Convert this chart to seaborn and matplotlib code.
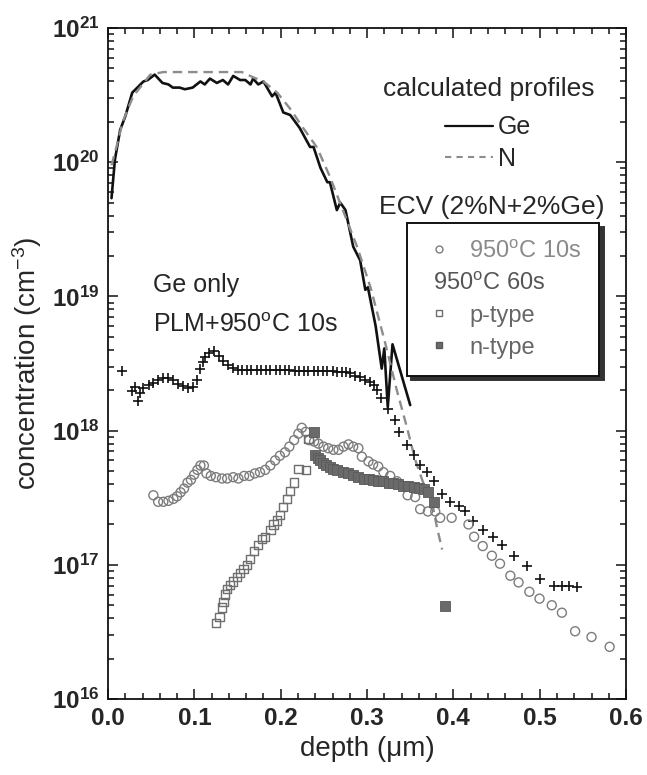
import numpy as np
import pandas as pd
import matplotlib
matplotlib.use("Agg")
import matplotlib.pyplot as plt
import matplotlib.ticker as ticker
from matplotlib.lines import Line2D
import seaborn as sns

# calculated profiles
ge_depth = [0.004, 0.008, 0.014, 0.020, 0.028, 0.041, 0.046, 0.054, 0.063, 0.070, 0.075, 0.083, 0.089,
            0.098, 0.107, 0.112, 0.118, 0.126, 0.133, 0.139, 0.145, 0.153, 0.159, 0.165, 0.168, 0.174,
            0.180, 0.190, 0.194, 0.203, 0.211, 0.222, 0.234, 0.238, 0.246, 0.254, 0.257, 0.265, 0.269,
            0.275, 0.284, 0.292, 0.298, 0.301, 0.310, 0.317, 0.320, 0.324, 0.3295, 0.350]
ge_conc = [5.4e19, 1.05e20, 1.74e20, 2.2e20, 3.3e20, 4.0e20, 4.1e20, 4.5e20, 3.9e20, 3.8e20, 3.6e20, 3.6e20, 3.5e20,
           3.6e20, 4.0e20, 3.8e20, 4.2e20, 3.9e20, 4.1e20, 3.8e20, 4.4e20, 4.1e20, 4.1e20, 3.8e20, 4.2e20, 3.8e20,
           4.0e20, 3.1e20, 3.3e20, 2.35e20, 2.25e20, 1.8e20, 1.3e20, 1.3e20, 9.1e19, 7.1e19, 7.1e19, 4.4e19, 5.0e19,
           4.4e19, 2.35e19, 1.86e19, 1.12e19, 1.17e19, 6.0e18, 2.9e18, 4.1e18, 1.5e18, 4.4e18, 1.55e18]

n_depth = [0.004, 0.010, 0.017, 0.029, 0.037, 0.049, 0.064, 0.095, 0.133, 0.155, 0.168, 0.180, 0.196,
           0.211, 0.226, 0.242, 0.257, 0.272, 0.289, 0.304, 0.321, 0.3345, 0.346, 0.356, 0.365, 0.375,
           0.381, 0.387]
n_conc = [9.5e19, 1.32e20, 2.0e20, 3.1e20, 3.6e20, 4.5e20, 4.7e20, 4.7e20, 4.7e20, 4.7e20, 4.3e20, 4.0e20, 3.3e20,
          2.5e20, 1.8e20, 1.29e20, 7.8e19, 4.4e19, 2.3e19, 1.17e19, 4.5e18, 2.0e18, 1.07e18, 6.0e17, 4.1e17, 3.0e17,
          1.9e17, 1.3e17]

# Ge only, PLM + 950C 10s
plm_depth = [0.0166, 0.0274, 0.031, 0.035, 0.037, 0.041, 0.047, 0.0525, 0.058, 0.064, 0.070, 0.0757, 0.0815,
             0.087, 0.093, 0.098, 0.103, 0.106, 0.110, 0.112, 0.117, 0.123, 0.128, 0.1336, 0.139, 0.145,
             0.150, 0.155, 0.161, 0.166, 0.172, 0.177, 0.183, 0.188, 0.194, 0.199, 0.205, 0.210, 0.216,
             0.221, 0.227, 0.232, 0.238, 0.243, 0.249, 0.254, 0.260, 0.265, 0.271, 0.276,
             0.280, 0.286, 0.292, 0.298, 0.3036, 0.308, 0.312, 0.316, 0.3237, 0.332, 0.3375, 0.346, 0.354,
             0.3615, 0.369, 0.3777, 0.3866, 0.396, 0.406, 0.4137, 0.423, 0.434, 0.4457, 0.456, 0.4697,
             0.485, 0.4998, 0.516, 0.5257, 0.5345, 0.543]
plm_conc = [2.8e18, 1.98e18, 2.1e18, 1.66e18, 1.9e18, 2.07e18, 2.19e18, 2.28e18, 2.38e18, 2.45e18, 2.45e18, 2.38e18, 2.24e18,
            2.14e18, 2.07e18, 2.1e18, 2.38e18, 2.86e18, 3.24e18, 3.55e18, 3.8e18, 3.9e18, 3.6e18, 3.3e18, 3.1e18, 2.95e18,
            2.85e18, 2.85e18, 2.84e18, 2.84e18, 2.83e18, 2.83e18, 2.83e18, 2.82e18, 2.82e18, 2.82e18, 2.81e18, 2.81e18, 2.80e18,
            2.80e18, 2.80e18, 2.79e18, 2.79e18, 2.78e18, 2.78e18, 2.77e18, 2.76e18, 2.75e18, 2.74e18, 2.72e18,
            2.69e18, 2.57e18, 2.51e18, 2.4e18, 2.32e18, 2.19e18, 2.0e18, 1.74e18, 1.45e18, 1.2e18, 9.8e17, 7.8e17, 6.6e17,
            5.5e17, 4.9e17, 4.2e17, 3.4e17, 2.95e17, 2.75e17, 2.5e17, 2.14e17, 1.82e17, 1.62e17, 1.41e17, 1.17e17,
            9.8e16, 7.8e16, 6.9e16, 6.9e16, 6.9e16, 6.8e16]

# ECV 950C 10s
ecv10_depth = [0.0525, 0.058, 0.064, 0.070, 0.0757, 0.080, 0.084, 0.088, 0.092, 0.096, 0.0997, 0.1035, 0.107,
               0.111, 0.114, 0.119, 0.125, 0.132, 0.138, 0.145, 0.151, 0.1576, 0.1637, 0.170, 0.176, 0.182,
               0.188, 0.1935, 0.199, 0.205, 0.210, 0.2155, 0.2205, 0.2244, 0.229, 0.233, 0.2387, 0.2437,
               0.2495, 0.255, 0.261, 0.267, 0.2727, 0.2785, 0.284, 0.290, 0.294, 0.3016, 0.307, 0.313, 0.319,
               0.3268, 0.3345, 0.347, 0.3557, 0.3615, 0.3705, 0.379, 0.3847, 0.398, 0.4175, 0.424, 0.434,
               0.4446, 0.454, 0.466, 0.4755, 0.488, 0.4998, 0.514, 0.5257, 0.541, 0.560, 0.581]
ecv10_conc = [3.3e17, 2.95e17, 2.95e17, 3.0e17, 3.1e17, 3.24e17, 3.47e17, 3.7e17, 4.1e17, 4.3e17, 4.7e17, 5.1e17, 5.5e17,
              5.5e17, 4.8e17, 4.6e17, 4.5e17, 4.4e17, 4.4e17, 4.5e17, 4.4e17, 4.6e17, 4.6e17, 4.8e17, 4.9e17, 5.1e17,
              5.5e17, 6.0e17, 6.5e17, 6.9e17, 7.6e17, 8.5e17, 9.5e17, 1.05e18, 9.8e17, 8.5e17, 8.3e17, 8.0e17,
              7.6e17, 7.4e17, 7.2e17, 7.2e17, 7.6e17, 7.9e17, 7.6e17, 7.4e17, 6.4e17, 5.9e17, 5.6e17, 5.4e17, 4.9e17,
              4.6e17, 4.2e17, 3.3e17, 3.2e17, 2.6e17, 2.5e17, 2.5e17, 2.24e17, 2.24e17, 2.0e17, 1.62e17, 1.38e17,
              1.17e17, 1.02e17, 8.3e16, 7.4e16, 6.3e16, 5.6e16, 5.0e16, 4.4e16, 3.2e16, 2.9e16, 2.45e16]

# ECV 950C 60s
p_depth = [0.125, 0.129, 0.132, 0.1336, 0.1356, 0.138, 0.141, 0.145, 0.149, 0.153, 0.157, 0.1607, 0.1645,
           0.169, 0.174, 0.178, 0.182, 0.188, 0.1915, 0.1955, 0.199, 0.2024, 0.207, 0.211, 0.2155, 0.2205,
           0.229, 0.232]
p_conc = [3.7e16, 4.1e16, 4.8e16, 5.3e16, 6.0e16, 6.6e16, 7.1e16, 7.5e16, 8.1e16, 8.7e16, 9.3e16, 1.0e17, 1.1e17,
          1.27e17, 1.41e17, 1.55e17, 1.62e17, 1.82e17, 2.0e17, 2.14e17, 2.34e17, 2.7e17, 3.1e17, 3.55e17, 4.1e17, 5.2e17,
          5.1e17, 8.7e17]

n_type_depth = [0.238, 0.240, 0.243, 0.2457, 0.249, 0.253, 0.257, 0.261, 0.265, 0.2727, 0.278, 0.284, 0.290,
                0.296, 0.302, 0.307, 0.313, 0.319, 0.325, 0.3306, 0.336, 0.342, 0.348, 0.354, 0.360, 0.3654,
                0.371, 0.377, 0.390]
n_type_conc = [9.8e17, 6.6e17, 6.3e17, 6.0e17, 5.7e17, 5.5e17, 5.35e17, 5.2e17, 5.1e17, 4.9e17, 4.8e17, 4.7e17, 4.55e17,
               4.4e17, 4.35e17, 4.3e17, 4.25e17, 4.2e17, 4.1e17, 4.05e17, 4.0e17, 3.9e17, 3.85e17, 3.8e17, 3.75e17, 3.7e17,
               3.5e17, 2.95e17, 4.9e16]

sns.set_style("ticks")
plt.rcParams['font.family'] = ['Liberation Sans', 'DejaVu Sans']
plt.rcParams['mathtext.fontset'] = 'custom'
plt.rcParams['mathtext.rm'] = 'Liberation Sans'
plt.rcParams['mathtext.bf'] = 'Liberation Sans:bold'
plt.rcParams['mathtext.it'] = 'Liberation Sans:italic'
plt.rcParams['axes.edgecolor'] = '#111111'

fig = plt.figure(figsize=(6.47, 7.75), dpi=100)
ax = fig.add_axes([0.167, 0.098, 0.8006, 0.8658])

sns.lineplot(x=ge_depth, y=ge_conc, ax=ax, color='#111111', lw=1.9, sort=False, estimator=None)
sns.lineplot(x=n_depth, y=n_conc, ax=ax, color='#8c8c8c', lw=1.7, sort=False, estimator=None,
             linestyle=(0, (4, 2.5)))

sns.scatterplot(x=plm_depth, y=plm_conc, ax=ax, marker='+', s=55, color='#111111', linewidth=1.2, zorder=3)
sns.scatterplot(x=ecv10_depth, y=ecv10_conc, ax=ax, marker='o', s=42, zorder=3)
ax.collections[-1].set_facecolor('none')
ax.collections[-1].set_edgecolor('#7c7c7c')
ax.collections[-1].set_linewidth(1.0)
sns.scatterplot(x=p_depth, y=p_conc, ax=ax, marker='s', s=36, zorder=3)
ax.collections[-1].set_facecolor('none')
ax.collections[-1].set_edgecolor('#6e6e6e')
ax.collections[-1].set_linewidth(1.0)
sns.scatterplot(x=n_type_depth, y=n_type_conc, ax=ax, marker='s', s=52, color='#6a6a6a',
                edgecolor='#5a5a5a', linewidth=0.6, zorder=3)

ax.set_yscale('log')
ax.set_xlim(0.0, 0.6)
ax.set_ylim(1e16, 1e21)
ax.xaxis.set_major_locator(ticker.MultipleLocator(0.1))
ax.xaxis.set_minor_locator(ticker.MultipleLocator(0.02))
ax.yaxis.set_major_locator(ticker.LogLocator(base=10, numticks=10))
ax.yaxis.set_minor_locator(ticker.LogLocator(base=10, subs=np.arange(2, 10), numticks=20))
ax.yaxis.set_major_formatter(ticker.FuncFormatter(lambda v, p: r'$\mathbf{10^{%d}}$' % round(np.log10(v))))
ax.xaxis.set_major_formatter(ticker.FormatStrFormatter('%.1f'))
ax.tick_params(which='both', direction='in', top=True, right=True, width=1.1, color='#111111')
ax.tick_params(which='major', length=7, labelsize=17.5, pad=6)
ax.tick_params(which='minor', length=4)
for lab in ax.get_xticklabels():
    lab.set_fontweight('bold')
for s in ax.spines.values():
    s.set_linewidth(1.3)

ax.set_xlabel('depth (μm)', fontsize=20, labelpad=4)
ax.set_ylabel('concentration (cm$^{-3}$)', fontsize=20, labelpad=6)

# calculated profiles legend
h1 = [Line2D([], [], color='#111111', lw=1.6),
      Line2D([], [], color='#8c8c8c', lw=1.5, linestyle=(0, (3, 2.5)))]
leg1 = ax.legend(h1, ['Ge', 'N'], title='calculated profiles', loc='upper center',
                 bbox_to_anchor=(0.734, 0.945), frameon=False, fontsize=18, title_fontsize=19,
                 handlelength=1.9, handletextpad=0.2, labelspacing=0.3, borderpad=0, alignment='center')
leg1._legend_box.sep = 10
ax.add_artist(leg1)

ax.text(0.740, 0.733, 'ECV (2%N+2%Ge)', transform=ax.transAxes, ha='center', va='center', fontsize=19)
ax.text(0.087, 0.617, 'Ge only', transform=ax.transAxes, ha='left', va='center', fontsize=18)
ax.text(0.087, 0.557, 'PLM+950$^{\\mathrm{o}}$C 10s', transform=ax.transAxes, ha='left', va='center', fontsize=18)

# ECV legend
h2 = [Line2D([], [], marker='o', ls='none', mfc='none', mec='#7c7c7c', ms=5),
      Line2D([], [], ls='none'),
      Line2D([], [], marker='s', ls='none', mfc='none', mec='#6e6e6e', ms=5),
      Line2D([], [], marker='s', ls='none', mfc='#6a6a6a', mec='#5a5a5a', ms=5)]
lab2 = ['950$^{\\mathrm{o}}$C 10s', '950$^{\\mathrm{o}}$C 60s', 'p-type', 'n-type']
leg2 = ax.legend(h2, lab2, loc='upper left', bbox_to_anchor=(0.577, 0.71), fontsize=17,
                 fancybox=False, framealpha=1, edgecolor='#111111', borderpad=0.75,
                 labelspacing=0.42, handlelength=1.2, handletextpad=0.7, borderaxespad=0,
                 shadow={'facecolor': '#333333', 'edgecolor': '#333333', 'alpha': 1, 'ox': 3, 'oy': -3})
leg2.get_frame().set_linewidth(1.4)
for t, c in zip(leg2.get_texts(), ['#8a8a8a', '#555555', '#666666', '#666666']):
    t.set_color(c)
leg2.get_texts()[1].set_position((-36, 0))

fig.savefig('out.png', dpi=100)
